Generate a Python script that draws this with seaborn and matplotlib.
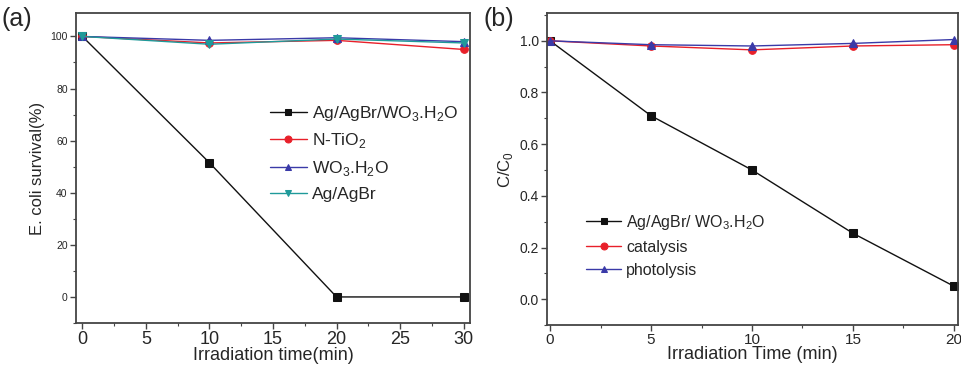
import matplotlib
matplotlib.use("Agg")
import matplotlib.pyplot as plt
from matplotlib.ticker import MultipleLocator
import seaborn as sns
import pandas as pd

# ---- data panel (a)
time_a = [0, 10, 20, 30]
a_composite = [100, 51.5, 0, 0]
a_ntio2 = [100, 97.5, 98.5, 95]
a_wo3 = [100, 98.5, 99.5, 98]
a_agagbr = [100, 97, 99, 97.5]
labels_a = ["Ag/AgBr/WO$_3$.H$_2$O", "N-TiO$_2$", "WO$_3$.H$_2$O", "Ag/AgBr"]

# ---- data panel (b)
time_b = [0, 5, 10, 15, 20]
b_composite = [1.0, 0.71, 0.50, 0.255, 0.05]
b_catalysis = [1.0, 0.98, 0.965, 0.98, 0.985]
b_photolysis = [1.0, 0.985, 0.98, 0.99, 1.005]
labels_b = ["Ag/AgBr/ WO$_3$.H$_2$O", "catalysis", "photolysis"]

colors_a = ["#111111", "#e8202a", "#3a3aa8", "#1f9a9a"]
markers_a = ["s", "o", "^", "v"]
colors_b = ["#111111", "#e8202a", "#3a3aa8"]
markers_b = ["s", "o", "^"]

sns.set_style("ticks")
plt.rcParams["font.family"] = ["Liberation Sans", "DejaVu Sans"]
plt.rcParams["mathtext.fontset"] = "custom"
plt.rcParams["mathtext.rm"] = "Liberation Sans"

fig = plt.figure(figsize=(9.61, 3.66), dpi=100)
ax1 = fig.add_axes([0.0791, 0.1175, 0.410, 0.847])
ax2 = fig.add_axes([0.5692, 0.112, 0.4277, 0.852])

df_a = pd.concat([
    pd.DataFrame({"t": time_a, "v": vals, "s": lab})
    for vals, lab in zip([a_composite, a_ntio2, a_wo3, a_agagbr], labels_a)
])
df_b = pd.concat([
    pd.DataFrame({"t": time_b, "v": vals, "s": lab})
    for vals, lab in zip([b_composite, b_catalysis, b_photolysis], labels_b)
])

sns.lineplot(data=df_a, x="t", y="v", hue="s", style="s", hue_order=labels_a,
             style_order=labels_a, palette=colors_a, markers=markers_a,
             dashes=False, markersize=5.5, linewidth=1.0, ax=ax1)
sns.lineplot(data=df_b, x="t", y="v", hue="s", style="s", hue_order=labels_b,
             style_order=labels_b, palette=colors_b, markers=markers_b,
             dashes=False, markersize=5.5, linewidth=1.0, ax=ax2)

for ax in (ax1, ax2):
    for ln in ax.get_lines():
        ln.set_markeredgecolor(ln.get_color())
        ln.set_markerfacecolor(ln.get_color())

# panel a formatting
ax1.set_xlim(-0.5, 30.5)
ax1.set_ylim(-10, 109)
ax1.xaxis.set_major_locator(MultipleLocator(5))
ax1.xaxis.set_minor_locator(MultipleLocator(2.5))
ax1.yaxis.set_major_locator(MultipleLocator(20))
ax1.yaxis.set_minor_locator(MultipleLocator(10))
ax1.set_xlabel("Irradiation time(min)", fontsize=13, labelpad=-1)
ax1.set_ylabel("E. coli survival(%)", fontsize=12, labelpad=4)
ax1.tick_params(axis="x", labelsize=13, pad=2)
ax1.tick_params(axis="y", labelsize=7.5, pad=2)
leg1 = ax1.legend(loc="upper left", bbox_to_anchor=(0.475, 0.73), frameon=False,
                  fontsize=12.5, handlelength=2.1, handletextpad=0.3,
                  labelspacing=0.5, borderaxespad=0)

# panel b formatting
ax2.set_xlim(-0.15, 20.2)
ax2.set_ylim(-0.1, 1.107)
ax2.xaxis.set_major_locator(MultipleLocator(5))
ax2.xaxis.set_minor_locator(MultipleLocator(2.5))
ax2.yaxis.set_major_locator(MultipleLocator(0.2))
ax2.yaxis.set_minor_locator(MultipleLocator(0.1))
ax2.set_xlabel("Irradiation Time (min)", fontsize=13, labelpad=-1)
ax2.set_ylabel("C/C$_0$", fontsize=12, labelpad=3)
ax2.tick_params(axis="x", labelsize=11, pad=2)
ax2.tick_params(axis="y", labelsize=10, pad=2)
leg2 = ax2.legend(loc="upper left", bbox_to_anchor=(0.08, 0.38), frameon=False,
                  fontsize=11.5, handlelength=2.2, handletextpad=0.3,
                  labelspacing=0.5, borderaxespad=0)

for leg in (leg1, leg2):
    for ln in leg.get_lines():
        ln.set_markeredgecolor(ln.get_color())
        ln.set_markerfacecolor(ln.get_color())
        ln.set_markersize(5)

for ax in (ax1, ax2):
    for sp in ax.spines.values():
        sp.set_visible(True)
        sp.set_color("#444444")
        sp.set_linewidth(1.3)
    ax.tick_params(which="major", direction="out", length=4, width=1, color="#444444")
    ax.tick_params(which="minor", direction="out", length=2.5, width=0.8, color="#444444")

fig.text(0.002, 0.93, "(a)", fontsize=18)
fig.text(0.503, 0.93, "(b)", fontsize=18)

fig.savefig("out.png", dpi=100)
